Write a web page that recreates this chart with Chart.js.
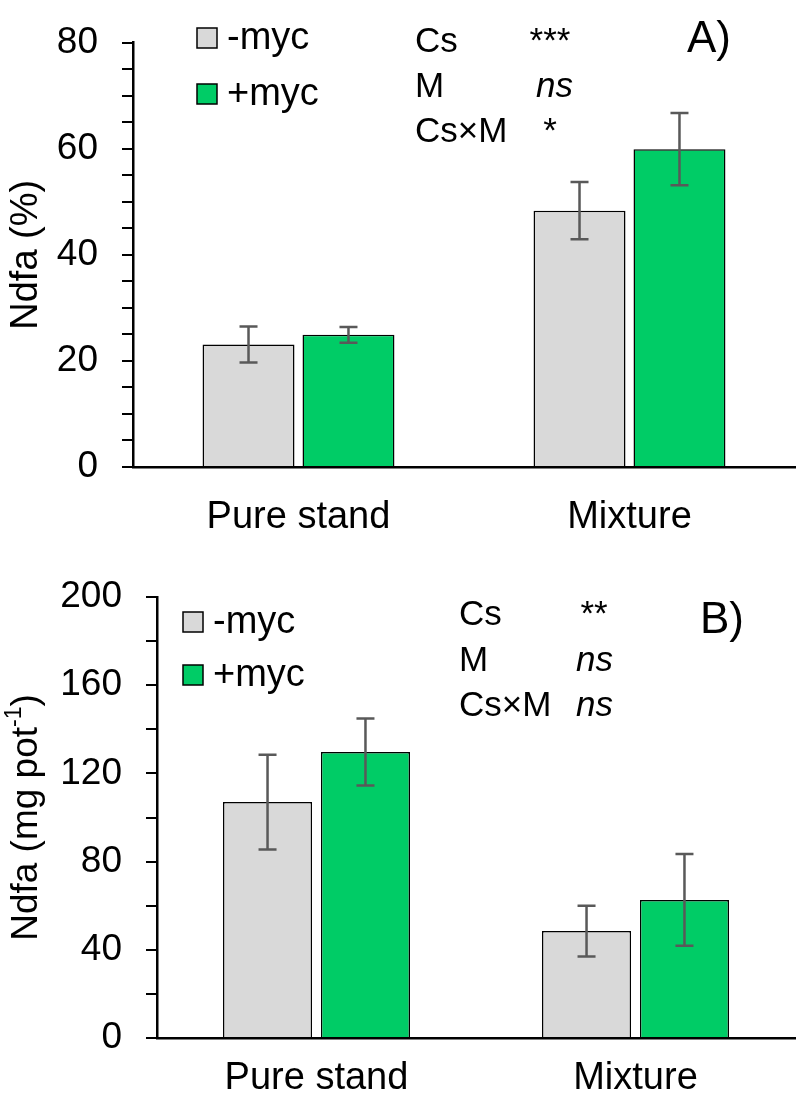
<!DOCTYPE html>
<html>
<head>
<meta charset="utf-8">
<script src="https://cdn.jsdelivr.net/npm/chart.js@4"></script>
<style>
  body { margin: 0; background: #fff; }
  .panel { position: absolute; left: 0; width: 800px; }
</style>
</head>
<body>
<div class="panel" style="top:0;height:550px"><canvas id="chartA"></canvas></div>
<div class="panel" style="top:550px;height:560px"><canvas id="chartB"></canvas></div>
<script>
const categories = ['Pure stand', 'Mixture'];
const seriesNames = ['-myc', '+myc'];

// A) Ndfa (%)
const pctMinus = [23.1, 48.3];
const pctMinusErr = [3.4, 5.4];
const pctPlus = [24.9, 59.9];
const pctPlusErr = [1.5, 6.8];

// B) Ndfa (mg pot-1)
const mgMinus = [107, 48.5];
const mgMinusErr = [21.5, 11.5];
const mgPlus = [129.7, 62.6];
const mgPlusErr = [15.2, 20.8];

const statsA = [['Cs', '***'], ['M', 'ns'], ['Cs×M', '*']];
const statsB = [['Cs', '**'], ['M', 'ns'], ['Cs×M', 'ns']];

const FONT = 'Arial, "Liberation Sans", sans-serif';
const GREY = '#d9d9d9';
const GREEN = '#00cc66';

function panelPlugin(p) {
  return {
    id: 'panel',
    afterDatasetsDraw(chart) {
      const ctx = chart.ctx;
      const y = chart.scales.y;
      ctx.save();

      // error bars
      chart.data.datasets.forEach((ds, i) => {
        chart.getDatasetMeta(i).data.forEach((bar, j) => {
          const v = ds.data[j], e = ds.errors[j];
          const t = y.getPixelForValue(v + e), b = y.getPixelForValue(v - e);
          ctx.strokeStyle = '#595959';
          ctx.lineWidth = 2.5;
          ctx.beginPath();
          ctx.moveTo(bar.x, t); ctx.lineTo(bar.x, b);
          ctx.moveTo(bar.x - 9, t); ctx.lineTo(bar.x + 9, t);
          ctx.moveTo(bar.x - 9, b); ctx.lineTo(bar.x + 9, b);
          ctx.stroke();
        });
      });

      // legend
      ctx.font = '38px ' + FONT;
      ctx.textBaseline = 'middle';
      ctx.textAlign = 'left';
      chart.data.datasets.forEach((ds, i) => {
        const by = p.legendY[i];
        ctx.fillStyle = ds.backgroundColor;
        ctx.fillRect(p.legendX, by, 20, 20);
        ctx.strokeStyle = '#000';
        ctx.lineWidth = 1.5;
        ctx.strokeRect(p.legendX, by, 20, 20);
        ctx.fillStyle = '#000';
        ctx.fillText(ds.label, p.legendX + 30, by + 11);
      });

      // statistics
      ctx.textBaseline = 'alphabetic';
      p.stats.forEach((row, i) => {
        const base = p.statsY + i * p.statsGap;
        ctx.font = '35px ' + FONT;
        ctx.fillText(row[0], p.statsX, base);
        const italic = row[1] === 'ns';
        ctx.font = (italic ? 'italic ' : '') + '35px ' + FONT;
        ctx.textAlign = italic ? 'left' : 'center';
        ctx.fillText(row[1], italic ? p.valueX : p.starX, base);
        ctx.textAlign = 'left';
      });

      // panel letter
      ctx.font = '44px ' + FONT;
      ctx.fillText(p.letter, p.letterX, p.letterY);

      // y axis title (rotated, with optional superscript)
      const cy = (chart.chartArea.top + chart.chartArea.bottom) / 2;
      ctx.translate(25, cy);
      ctx.rotate(-Math.PI / 2);
      ctx.textBaseline = 'middle';
      const parts = p.title;
      let total = 0;
      parts.forEach(pt => {
        ctx.font = (pt.sup ? p.supSize : p.titleSize) + 'px ' + FONT;
        pt.w = ctx.measureText(pt.text).width;
        total += pt.w;
      });
      let x = -total / 2;
      parts.forEach(pt => {
        ctx.font = (pt.sup ? p.supSize : p.titleSize) + 'px ' + FONT;
        ctx.fillText(pt.text, x, pt.sup ? -10 : 2);
        x += pt.w;
      });
      ctx.restore();
    }
  };
}

function makeChart(id, minus, minusErr, plus, plusErr, yMax, step, labelStep, axisWidth, layout, cp, bp, p) {
  return new Chart(document.getElementById(id), {
    type: 'bar',
    data: {
      labels: categories,
      datasets: [
        { label: seriesNames[0], data: minus, errors: minusErr, backgroundColor: GREY,
          borderColor: '#000', borderWidth: 1.5, categoryPercentage: cp, barPercentage: bp },
        { label: seriesNames[1], data: plus, errors: plusErr, backgroundColor: GREEN,
          borderColor: '#000', borderWidth: 1.5, categoryPercentage: cp, barPercentage: bp }
      ]
    },
    options: {
      responsive: true,
      maintainAspectRatio: false,
      animation: false,
      layout: { padding: layout },
      plugins: { legend: { display: false }, tooltip: { enabled: false } },
      scales: {
        x: {
          grid: { display: false },
          border: { display: true, color: '#000', width: 2.5 },
          ticks: { color: '#000', font: { family: FONT, size: 38 }, padding: layout.xPad },
          afterFit: s => { s.height = layout.xHeight; }
        },
        y: {
          min: 0, max: yMax,
          grid: { drawOnChartArea: false, drawTicks: true, tickLength: 11, color: '#000', lineWidth: 2 },
          border: { display: true, color: '#000', width: 2.5 },
          ticks: {
            stepSize: step, autoSkip: false, color: '#000', padding: 24,
            font: { family: FONT, size: 37, lineHeight: 1 },
            callback: v => (v % labelStep === 0 ? v : '')
          },
          afterFit: s => { s.width = axisWidth; }
        }
      }
    },
    plugins: [panelPlugin(p)]
  });
}

makeChart('chartA', pctMinus, pctMinusErr, pctPlus, pctPlusErr, 80, 5, 20, 133,
  { top: 20, right: 5, left: 0, bottom: 0, xPad: 20, xHeight: 83 }, 0.604, 0.92,
  { legendX: 197, legendY: [28, 84], stats: statsA, statsX: 415, statsY: 52, statsGap: 45,
    starX: 550, valueX: 536, letter: 'A)', letterX: 687, letterY: 52,
    titleSize: 38, supSize: 23, title: [{ text: 'Ndfa (%)' }] });

makeChart('chartB', mgMinus, mgMinusErr, mgPlus, mgPlusErr, 200, 20, 40, 157,
  { top: 47, right: 5, left: 0, bottom: 0, xPad: 10, xHeight: 72 }, 0.614, 0.91,
  { legendX: 183, legendY: [62, 115], stats: statsB, statsX: 459, statsY: 75, statsGap: 45.5,
    starX: 594, valueX: 576, letter: 'B)', letterX: 700, letterY: 83,
    titleSize: 37, supSize: 23,
    title: [{ text: 'Ndfa (mg pot' }, { text: '-1', sup: true }, { text: ')' }] });
</script>
</body>
</html>
